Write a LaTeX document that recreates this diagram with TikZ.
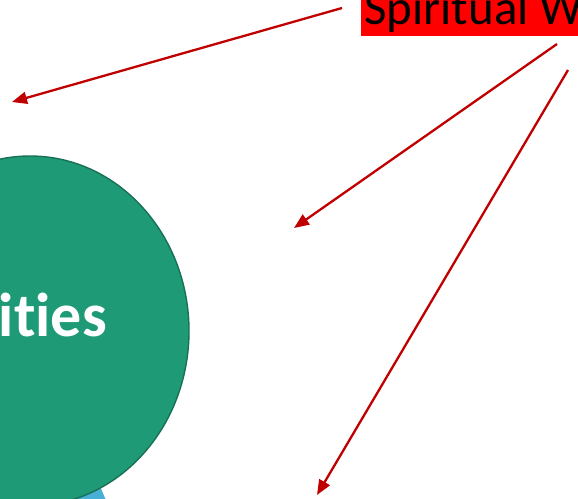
\documentclass[tikz,border=0pt]{standalone}
\usepackage{fontspec}
\setmainfont{Carlito}[Ligatures=NoCommon]
\usetikzlibrary{shapes.geometric,arrows.meta}
\definecolor{arrowred}{RGB}{192,0,0}
\definecolor{actgreen}{RGB}{31,154,119}
\definecolor{actedge}{RGB}{24,112,86}
\definecolor{skyblue}{RGB}{72,175,215}
\begin{document}
\begin{tikzpicture}[x=1pt,y=-1pt,
  arrowline/.style={draw=arrowred,line width=2.3pt,-{Triangle[length=15pt,width=12pt]}},
  redlabel/.style={anchor=base west,fill=red,text=black,font=\fontsize{49}{49}\selectfont,inner xsep=3pt,inner ysep=3pt,text depth=8.5pt},
  bubble/.style={ellipse,fill=actgreen,draw=actedge,line width=1.4pt,inner sep=0pt},
  bubbletext/.style={anchor=base east,text=white,font=\bfseries\fontsize{62}{62}\selectfont,inner sep=0pt}]
\useasboundingbox (0,0) rectangle (578,498);
\clip (0,0) rectangle (578,498);
\fill[skyblue] (40,440) -- (79.6,440) -- (106.8,502) -- (40,502) -- cycle;
\node[bubble,minimum width=318pt,minimum height=350pt] (act) at (30,331) {};
\node[bubbletext] (acttext) at (107,336) {ities};
\node[redlabel] (spirit) at (361,24.5) {Spiritual Warfare};
\coordinate (s1) at (342,8);
\coordinate (e1) at (12,102);
\coordinate (s2) at (557,44);
\coordinate (e2) at (294,228);
\coordinate (s3) at (568,70);
\coordinate (e3) at (317,495);
\draw[arrowline] (s1) -- (e1);
\draw[arrowline] (s2) -- (e2);
\draw[arrowline] (s3) -- (e3);
\end{tikzpicture}
\end{document}
